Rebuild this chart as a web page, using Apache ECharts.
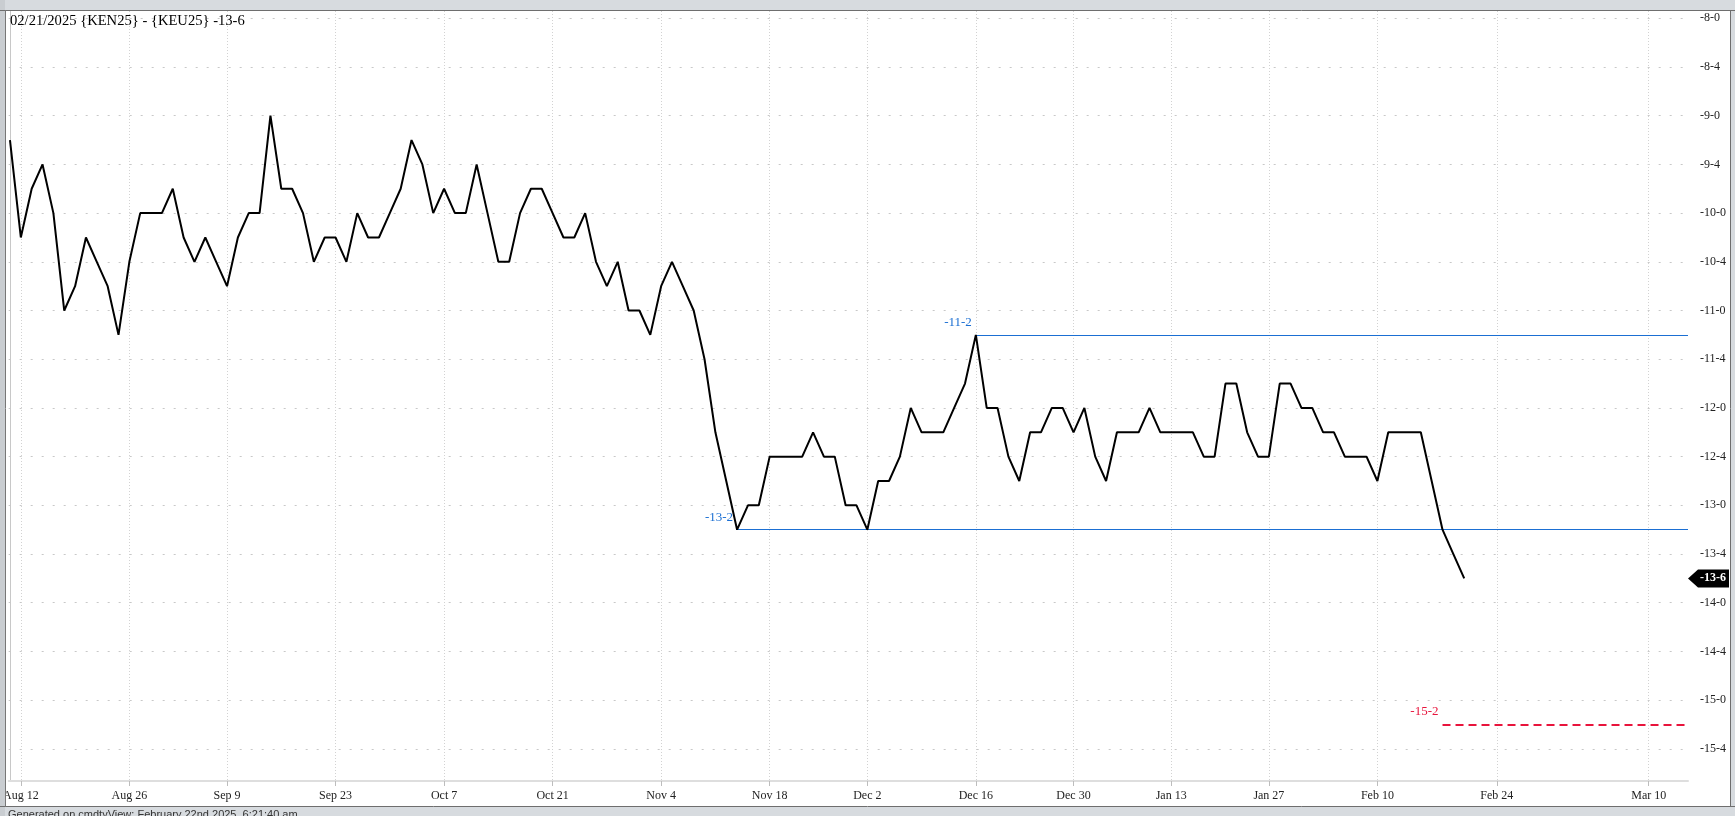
<!DOCTYPE html>
<html><head><meta charset="utf-8">
<script src="https://cdn.jsdelivr.net/npm/echarts@6/dist/echarts.min.js"></script>
<style>html,body{margin:0;padding:0;background:#fff;overflow:hidden}#c{width:1735px;height:816px}</style>
</head><body><div id="c"></div>
<script>
// ---------- data ----------
const titleText = '02/21/2025 {KEN25} - {KEU25} -13-6';
const footerText = 'Generated on cmdtyView: February 22nd 2025, 6:21:40 am';
const startDate = '2024-08-09';
const lastTradingDate = '2025-02-21';
const axisEndDate = '2025-03-14';
const holidays = ['2024-09-02','2024-11-28','2024-12-25','2025-01-01','2025-01-20','2025-02-17'];
const xTickLabels = ['Aug 12','Aug 26','Sep 9','Sep 23','Oct 7','Oct 21','Nov 4','Nov 18','Dec 2','Dec 16','Dec 30','Jan 13','Jan 27','Feb 10','Feb 24','Mar 10'];
const yTickValues = [-8,-8.5,-9,-9.5,-10,-10.5,-11,-11.5,-12,-12.5,-13,-13.5,-14,-14.5,-15,-15.5];
const aug = [-9.25,-10.25,-9.75,-9.5,-10.0,-11.0,-10.75,-10.25,-10.5,-10.75,-11.25,-10.5,-10.0,-10.0,-10.0,-9.75];
const sep = [-10.25,-10.5,-10.25,-10.5,-10.75,-10.25,-10.0,-10.0,-9.0,-9.75,-9.75,-10.0,-10.5,-10.25,-10.25,-10.5,-10.0,-10.25,-10.25,-10.0];
const oct = [-9.75,-9.25,-9.5,-10.0,-9.75,-10.0,-10.0,-9.5,-10.0,-10.5,-10.5,-10.0,-9.75,-9.75,-10.0,-10.25,-10.25,-10.0,-10.5,-10.75,-10.5,-11.0,-11.0];
const nov = [-11.25,-10.75,-10.5,-10.75,-11.0,-11.5,-12.25,-12.75,-13.25,-13.0,-13.0,-12.5,-12.5,-12.5,-12.5,-12.25,-12.5,-12.5,-13.0,-13.0];
const dec = [-13.25,-12.75,-12.75,-12.5,-12.0,-12.25,-12.25,-12.25,-12.0,-11.75,-11.25,-12.0,-12.0,-12.5,-12.75,-12.25,-12.25,-12.0,-12.0,-12.25,-12.0];
const jan = [-12.5,-12.75,-12.25,-12.25,-12.25,-12.0,-12.25,-12.25,-12.25,-12.25,-12.5,-12.5,-11.75,-11.75,-12.25,-12.5,-12.5,-11.75,-11.75,-12.0,-12.0];
const feb = [-12.25,-12.25,-12.5,-12.5,-12.5,-12.75,-12.25,-12.25,-12.25,-12.25,-12.75,-13.25,-13.5,-13.75];
const resistance = {value: -11.25, from: 'Dec 16'};
const support = {value: -13.25, from: 'Nov 13'};
const target = {value: -15.25, from: 'Feb 19'};

// ---------- build ----------
const spread = [].concat(aug, sep, oct, nov, dec, jan, feb);
const MONTHS = ['Jan','Feb','Mar','Apr','May','Jun','Jul','Aug','Sep','Oct','Nov','Dec'];
function buildCategories(){
  const out = [];
  let d = new Date(startDate + 'T00:00:00Z');
  const endT = new Date(lastTradingDate + 'T00:00:00Z');
  const endA = new Date(axisEndDate + 'T00:00:00Z');
  while (d <= endA) {
    const iso = d.toISOString().slice(0,10);
    const wd = d.getUTCDay();
    const label = MONTHS[d.getUTCMonth()] + ' ' + d.getUTCDate();
    if (d <= endT) { if (wd !== 0 && wd !== 6 && holidays.indexOf(iso) < 0) out.push(label); }
    else out.push(label);
    d = new Date(d.getTime() + 86400000);
  }
  return out;
}
const categories = buildCategories();
const xi = l => categories.indexOf(l);
const tickIdx = xTickLabels.map(xi);
function fmt8(v){
  const s = v < 0 ? '-' : '';
  const a = Math.abs(v);
  let i = Math.floor(a + 1e-9);
  let e = Math.round((a - i) * 8);
  if (e === 8) { i++; e = 0; }
  return s + i + '-' + e;
}
const X0 = -0.12, X1 = 154.62, Y0 = -15.83, Y1 = -7.925;
const SERIF = 'Liberation Serif';
const BLUE = '#1b6fd3', RED = '#e8143c';

function levelLine(lv, color, type, width){
  return [
    {coord: [xi(lv.from), lv.value],
     lineStyle: {color: color, type: type, width: width},
     label: {show: true, position: 'start', distance: 4,
             formatter: '{t|' + fmt8(lv.value) + '}\n{s| }',
             rich: {
               t: {color: color, fontFamily: SERIF, fontSize: 13, lineHeight: 15},
               s: {fontSize: 12, lineHeight: 25}
             }}},
    {coord: [X1, lv.value]}
  ];
}

const chart = echarts.init(document.getElementById('c'), null, {renderer: 'canvas'});
const option = {
  animation: false,
  backgroundColor: '#ffffff',
  title: {text: titleText, left: 10, top: 14, padding: 0,
          textStyle: {fontFamily: SERIF, fontSize: 14.6, fontWeight: 'normal', color: '#000'}},
  grid: {left: 6, right: 47, top: 11, bottom: 35, containLabel: false},
  xAxis: {
    type: 'value', min: X0, max: X1,
    axisLine: {show: true, onZero: false, lineStyle: {color: '#dedede', width: 2}},
    axisTick: {show: true, customValues: tickIdx, length: 5, lineStyle: {color: '#bdbdbd'}},
    axisLabel: {customValues: tickIdx, formatter: v => categories[Math.round(v)] || '',
                fontFamily: SERIF, fontSize: 12, color: '#222', margin: 9},
    splitLine: {show: true, lineStyle: {color: '#d2d2d2', type: [1,2], width: 1}}
  },
  yAxis: {
    type: 'value', position: 'right', min: Y0, max: Y1, scale: true,
    axisLine: {show: true, lineStyle: {color: '#c8c8c8', width: 1}},
    axisTick: {show: false, customValues: yTickValues},
    axisLabel: {customValues: yTickValues, formatter: fmt8, fontFamily: SERIF, fontSize: 12,
                color: '#222', margin: 12, align: 'left'},
    splitLine: {show: true, lineStyle: {color: '#c8c8c8', type: [2,9], width: 1}}
  },
  series: [{
    type: 'line', name: 'spread', z: 5,
    data: spread.map((v, i) => [i, v]),
    symbol: 'none', lineStyle: {color: '#000', width: 2},
    markLine: {
      silent: true, symbol: ['none','none'], animation: false, precision: 4, z: 4,
      data: [
        levelLine(resistance, BLUE, 'solid', 1.2),
        levelLine(support, BLUE, 'solid', 1.2),
        levelLine(target, RED, [8,5], 2)
      ]
    }
  }]
};
chart.setOption(option);

const last = spread[spread.length - 1];
const ly = chart.convertToPixel({yAxisIndex: 0}, last);
const ax = chart.convertToPixel({xAxisIndex: 0}, X1);
chart.setOption({
  graphic: [
    {type: 'polygon', z: 50, shape: {points: [[ax, ly],[ax+10, ly-9],[ax+41, ly-9],[ax+41, ly+9],[ax+10, ly+9]]},
     style: {fill: '#000'}},
    {type: 'text', z: 51, x: ax + 25, y: ly, style: {text: fmt8(last), fill: '#fff',
      font: 'bold 12px "Liberation Serif"', align: 'center', verticalAlign: 'middle'}},
    // frame
    {type: 'rect', zlevel: 1, z: 100, shape: {x: 0, y: 0, width: 1735, height: 10}, style: {fill: '#d7dbdf'}},
    {type: 'line', zlevel: 1, z: 101, shape: {x1: 0, y1: 10.5, x2: 1735, y2: 10.5}, style: {stroke: '#6e6e6e', lineWidth: 1}},
    {type: 'rect', zlevel: 1, z: 100, shape: {x: 0, y: 807, width: 1735, height: 9}, style: {fill: '#d7dbdf'}},
    {type: 'line', zlevel: 1, z: 101, shape: {x1: 0, y1: 806.5, x2: 1735, y2: 806.5}, style: {stroke: '#6e6e6e', lineWidth: 1}},
    {type: 'text', zlevel: 1, z: 102, x: 8, y: 809, style: {text: footerText, fill: '#333',
      font: '11px "Liberation Sans"', align: 'left', verticalAlign: 'top'}},
    {type: 'rect', zlevel: 1, z: 100, shape: {x: 0, y: 0, width: 5, height: 816}, style: {fill: '#c9cdd1'}},
    {type: 'line', zlevel: 1, z: 101, shape: {x1: 5.5, y1: 10, x2: 5.5, y2: 807}, style: {stroke: '#777', lineWidth: 1}},
    {type: 'rect', zlevel: 1, z: 100, shape: {x: 1731, y: 0, width: 4, height: 816}, style: {fill: '#d7dbdf'}},
    {type: 'line', zlevel: 1, z: 101, shape: {x1: 1730.5, y1: 10, x2: 1730.5, y2: 807}, style: {stroke: '#6e6e6e', lineWidth: 1}}
  ]
});
</script>
</body></html>
